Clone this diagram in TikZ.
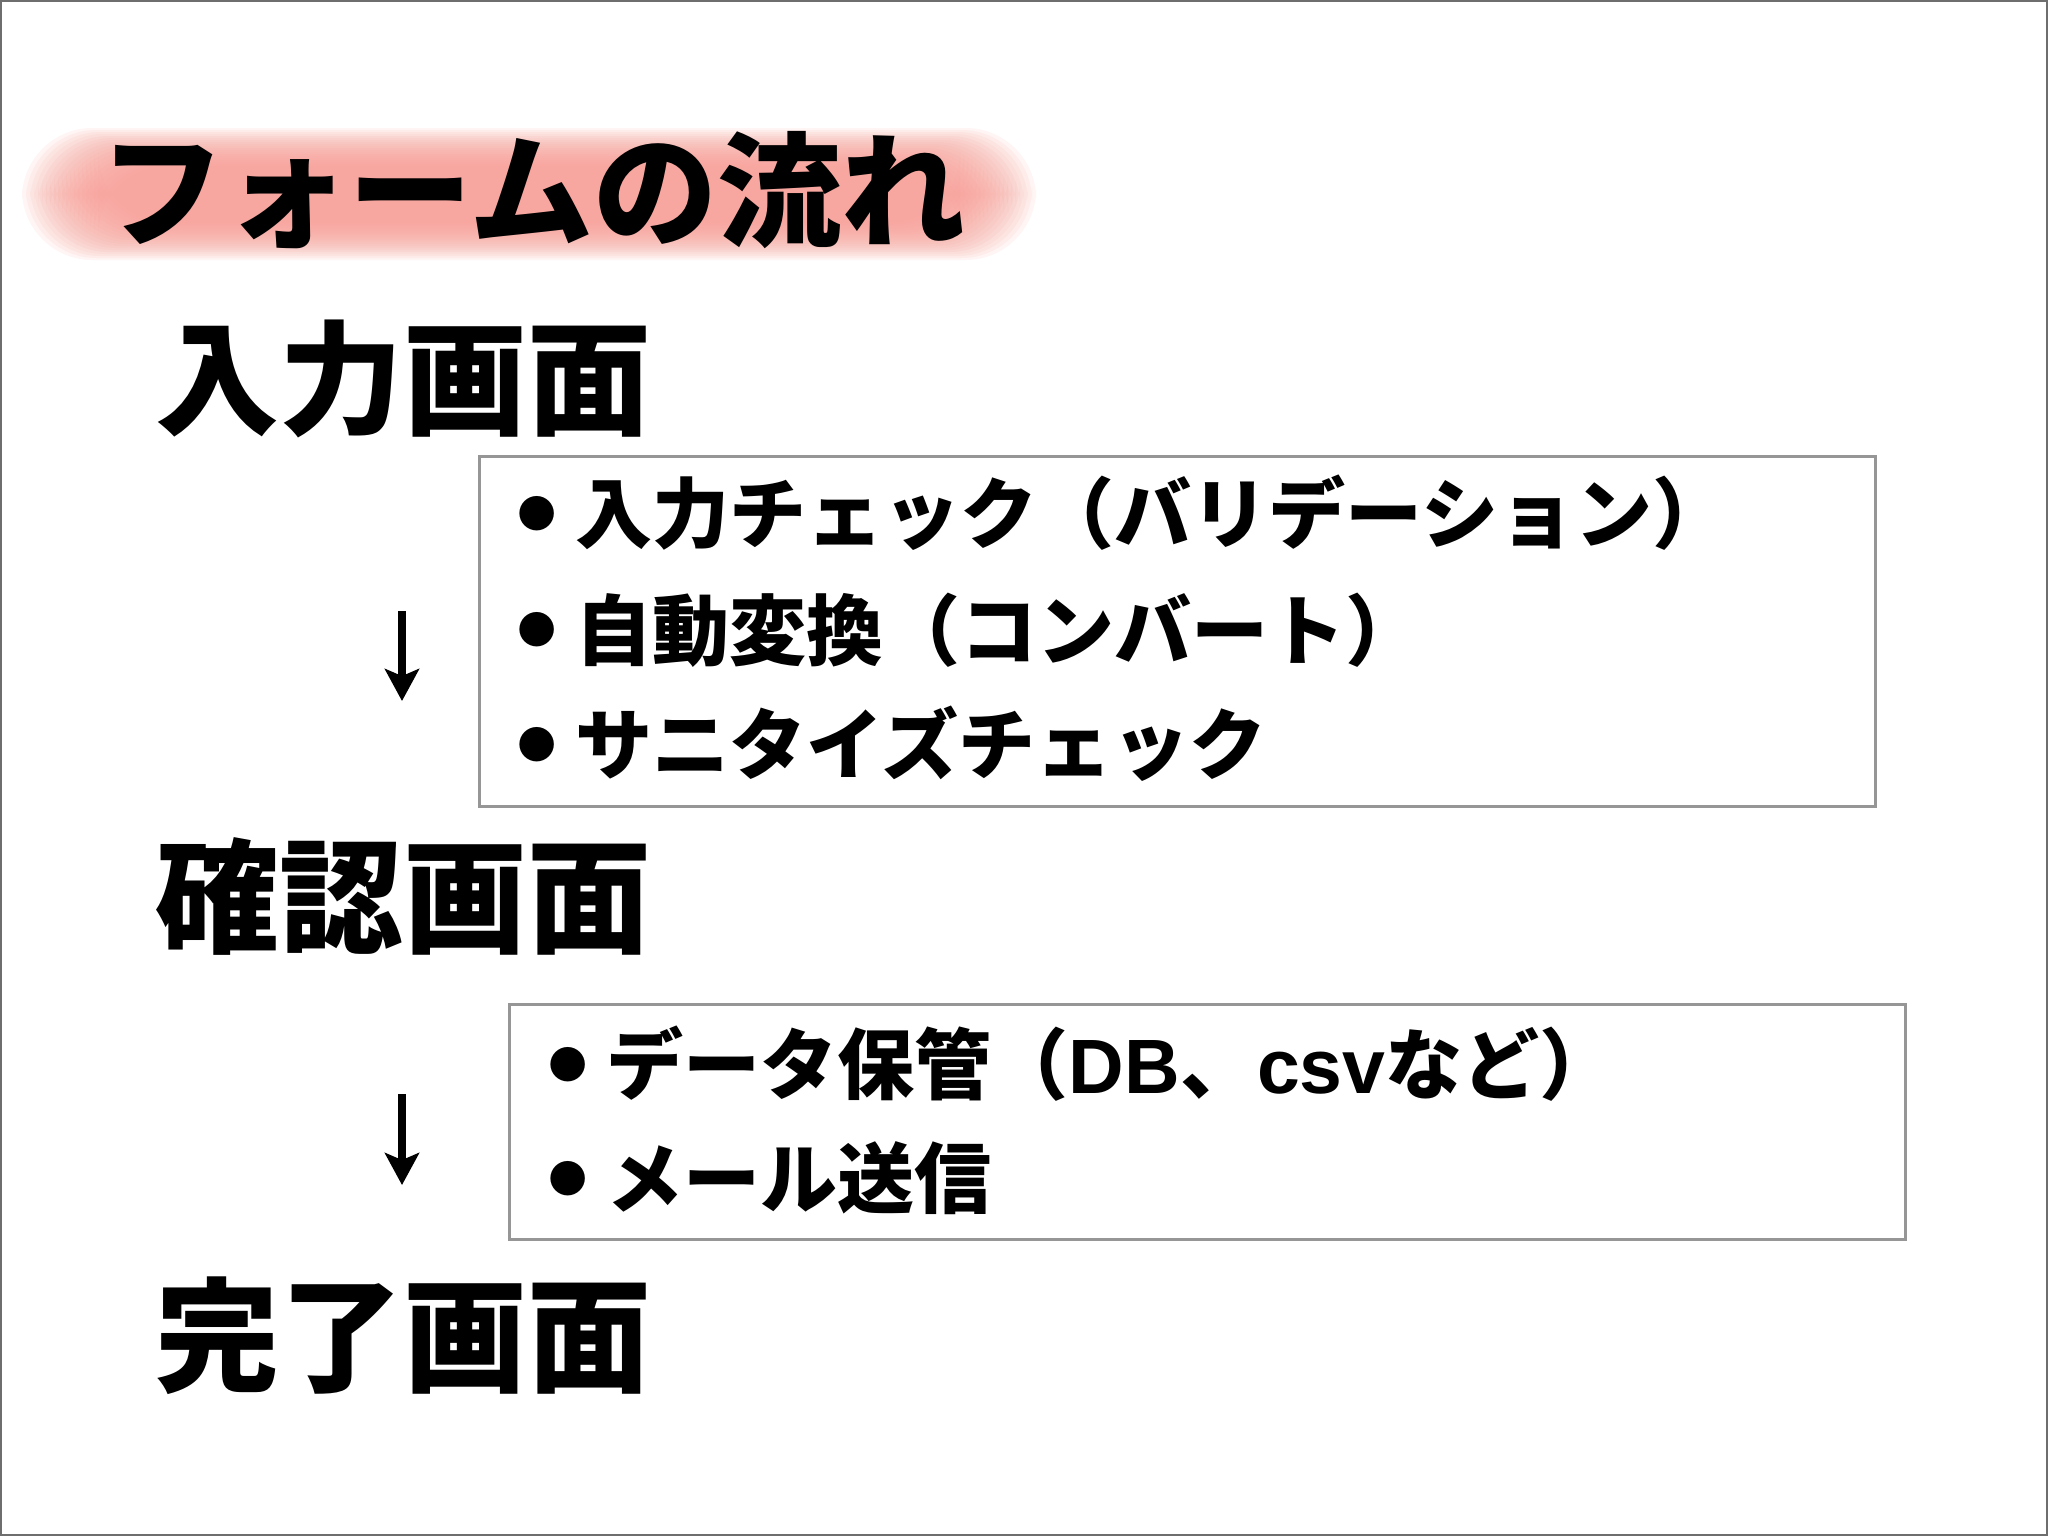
\documentclass[tikz,border=0pt]{standalone}
\usepackage{fontspec}
\newfontfamily\jpfont{Noto Sans CJK JP Black}
\newfontfamily\latinbold{Liberation Sans Bold}
\usetikzlibrary{arrows.meta}
\definecolor{bandpink}{RGB}{248,160,152}
\definecolor{boxgray}{RGB}{150,150,150}
\definecolor{framegray}{RGB}{110,110,110}
\newcommand{\bul}{\makebox[1em]{\raisebox{-0.23em}[0pt][0pt]{\scalebox{1.6}{・}}}}
\tikzset{
  heading/.style={anchor=west,inner sep=0pt,font=\jpfont\fontsize{35.2pt}{40pt}\selectfont},
  titletext/.style={anchor=west,inner sep=0pt,font=\jpfont\fontsize{35.3pt}{40pt}\selectfont},
  itemtext/.style={anchor=west,inner sep=0pt,font=\jpfont\fontsize{21.9pt}{26pt}\selectfont},
  itembox/.style={draw=boxgray,line width=0.8pt,anchor=north west,inner sep=0pt,minimum width=13.95cm},
  flowarrow/.style={line width=2pt,-{Stealth[length=9.1pt,width=9.7pt,inset=2pt]}}
}
\begin{document}
\begin{tikzpicture}[x=0.01cm,y=-0.01cm]
\useasboundingbox (0,0) rectangle (2048,1536);
\fill[white] (0,0) rectangle (2048,1536);
\draw[framegray,line width=0.6pt] (1,1) rectangle (2047,1535);
% blurred pink band behind the title
\foreach \i in {0,...,19}{
  \fill[bandpink,opacity=0.1,rounded corners=20] (22+\i*4,128+\i*2) rectangle (1036-\i*4,260-\i*2);
}
\node[titletext] (title) at (100,190) {フォームの流れ};
% headings
\node[heading] (s1) at (155,379) {入力画面};
\node[heading] (s2) at (155,896) {確認画面};
\node[heading] (s3) at (155,1336) {完了画面};
% box 1
\node[itembox,minimum height=3.5cm] (b1) at (478,455) {};
\node[itemtext] (b1l1) at (498,513) {\bul 入力チェック（バリデーション）};
\node[itemtext] (b1l2) at (498,630) {\bul 自動変換（コンバート）};
\node[itemtext] (b1l3) at (498,744) {\bul サニタイズチェック};
% box 2
\node[itembox,minimum height=2.35cm] (b2) at (508,1003) {};
\node[itemtext] (b2l1) at (529,1064) {\bul データ保管（{\latinbold DB}、{\latinbold csv}など）};
\node[itemtext] (b2l2) at (529,1178) {\bul メール送信};
% arrows
\coordinate (a1s) at (402,611);
\coordinate (a1e) at (402,701);
\coordinate (a2s) at (402,1094);
\coordinate (a2e) at (402,1185);
\draw[flowarrow] (a1s) -- (a1e);
\draw[flowarrow] (a2s) -- (a2e);
\end{tikzpicture}
\end{document}
